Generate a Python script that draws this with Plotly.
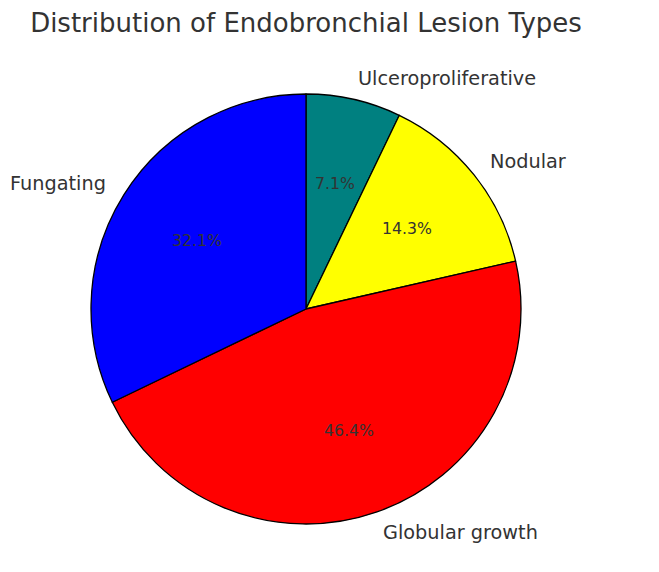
import math
import plotly.graph_objects as go

# Data
labels = ['Ulceroproliferative', 'Nodular', 'Globular growth', 'Fungating']
counts = [2, 4, 13, 9]
colors = ['#008080', '#ffff00', '#ff0000', '#0000ff']

W, H = 659, 572
off = 8                      # page body margin
cx, cy, R = 306 - off, 263 + off, 215   # pie centre (px from left / bottom of figure) and radius

fig = go.Figure(go.Pie(labels=labels, values=counts, sort=False, direction='clockwise',
                       rotation=0, textinfo='none', hoverinfo='label+percent',
                       marker=dict(colors=colors, line=dict(color='black', width=1.3)),
                       domain=dict(x=[(cx - R) / W, (cx + R) / W], y=[(cy - R) / H, (cy + R) / H]),
                       showlegend=False))

# labels at 1.1 r, percentages at 0.6 r (like matplotlib)
total = sum(counts)
ann = []
start = 90.0
for lab, c in zip(labels, counts):
    span = 360.0 * c / total
    mid = math.radians(start - span / 2)
    start -= span
    dx, dy = math.cos(mid), math.sin(mid)
    ann.append(dict(x=(cx + 1.1 * R * dx) / W, y=(cy + 1.1 * R * dy) / H, text=lab,
                    xanchor='left' if dx > 0 else 'right', yanchor='middle',
                    xshift=-3 if dx > 0 else 2,
                    showarrow=False, font=dict(size=19.3, color='#333333')))
    ann.append(dict(x=(cx + 0.6 * R * dx) / W, y=(cy + 0.6 * R * dy) / H,
                    text='%.1f%%' % (100.0 * c / total), xanchor='center', yanchor='middle',
                    showarrow=False, font=dict(size=15.7, color='#333333')))

fig.update_layout(width=W, height=H, margin=dict(l=0, r=0, t=0, b=0),
                  paper_bgcolor='white', font=dict(family='DejaVu Sans', color='#333333'),
                  title=dict(text='Distribution of Endobronchial Lesion Types', x=(306 - off) / W, xanchor='center',
                             y=1 - (23 - off) / H, yanchor='middle', font=dict(size=26, color='#333333')),
                  annotations=ann)

fig.write_html("out.html")
